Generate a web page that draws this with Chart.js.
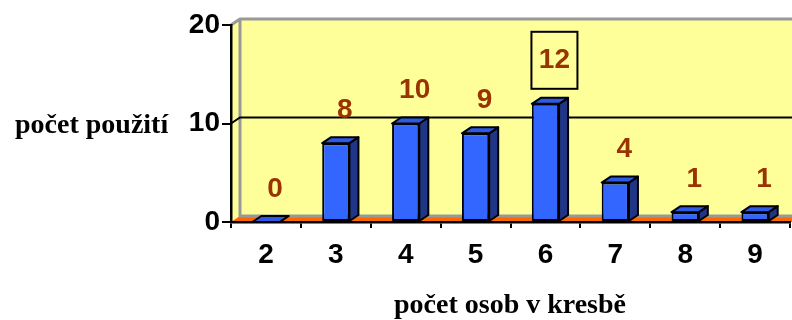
<!DOCTYPE html>
<html>
<head>
<meta charset="utf-8">
<script src="https://cdn.jsdelivr.net/npm/chart.js@4/dist/chart.umd.min.js"></script>
<style>
  html, body { margin: 0; padding: 0; background: #fff; }
  #wrap { width: 792px; height: 320px; }
</style>
</head>
<body>
<div id="wrap"><canvas id="chart" width="792" height="320"></canvas></div>
<script>
"use strict";

var categories = ["2", "3", "4", "5", "6", "7", "8", "9"];
var counts = [0, 8, 10, 9, 12, 4, 1, 1];
var yTicks = [0, 10, 20];
var highlightIndex = 4;

var xTitle = "počet osob v kresbě";
var yTitle = "počet použití";

// depth of the fake 3d
var DX = 9, DY = 6;

var wallsPlugin = {
  id: "walls",
  beforeDraw: function(chart) {
    var ctx = chart.ctx;
    var a = chart.chartArea;
    var y = chart.scales.y;
    var right = chart.width + 20;
    ctx.save();
    // back + side wall
    ctx.fillStyle = "#FFFF99";
    ctx.beginPath();
    ctx.moveTo(a.left, a.top);
    ctx.lineTo(a.left + DX, a.top - DY);
    ctx.lineTo(right, a.top - DY);
    ctx.lineTo(right, a.bottom - DY);
    ctx.lineTo(a.left, a.bottom);
    ctx.closePath();
    ctx.fill();
    // floor
    ctx.fillStyle = "#FF6600";
    ctx.beginPath();
    ctx.moveTo(a.left, a.bottom);
    ctx.lineTo(a.left + DX, a.bottom - DY);
    ctx.lineTo(right, a.bottom - DY);
    ctx.lineTo(right, a.bottom);
    ctx.closePath();
    ctx.fill();
    // wall edges
    ctx.strokeStyle = "#999999";
    ctx.lineWidth = 3;
    ctx.beginPath();
    ctx.moveTo(a.left, a.top);
    ctx.lineTo(a.left + DX, a.top - DY);
    ctx.lineTo(right, a.top - DY);
    ctx.moveTo(a.left + DX, a.top - DY);
    ctx.lineTo(a.left + DX, a.bottom - DY);
    ctx.lineTo(right, a.bottom - DY);
    ctx.stroke();
    // gridlines on the wall
    ctx.strokeStyle = "#000";
    ctx.lineWidth = 2;
    yTicks.forEach(function(v) {
      if (v === 0 || v === yTicks[yTicks.length - 1]) return;
      var py = y.getPixelForValue(v);
      ctx.beginPath();
      ctx.moveTo(a.left, py);
      ctx.lineTo(a.left + DX, py - DY);
      ctx.lineTo(right, py - DY);
      ctx.stroke();
    });
    ctx.restore();
  },
  afterDatasetsDraw: function(chart) {
    var ctx = chart.ctx;
    var meta = chart.getDatasetMeta(0);
    ctx.save();
    ctx.strokeStyle = "#000";
    ctx.lineWidth = 2;
    ctx.lineJoin = "round";
    meta.data.forEach(function(bar) {
      var p = bar.getProps(["x", "y", "base", "width"], true);
      var l = p.x - p.width / 2, r = p.x + p.width / 2;
      // side
      ctx.fillStyle = "#1F3585";
      ctx.beginPath();
      ctx.moveTo(r, p.y);
      ctx.lineTo(r + DX, p.y - DY);
      ctx.lineTo(r + DX, p.base - DY);
      ctx.lineTo(r, p.base);
      ctx.closePath();
      ctx.fill();
      ctx.stroke();
      // top
      ctx.fillStyle = "#2E5BE6";
      ctx.beginPath();
      ctx.moveTo(l, p.y);
      ctx.lineTo(l + DX, p.y - DY);
      ctx.lineTo(r + DX, p.y - DY);
      ctx.lineTo(r, p.y);
      ctx.closePath();
      ctx.fill();
      ctx.stroke();
    });
    ctx.restore();
  },
  afterDraw: function(chart) {
    var ctx = chart.ctx;
    var meta = chart.getDatasetMeta(0);
    ctx.save();
    // value labels
    ctx.font = "bold 28px 'Liberation Sans', Arial, sans-serif";
    ctx.textAlign = "center";
    ctx.textBaseline = "middle";
    ctx.fillStyle = "#993300";
    meta.data.forEach(function(bar, i) {
      var lx = bar.x + DX;
      var ly = bar.y - 33;
      if (i === highlightIndex) {
        ly = bar.y - 44;
        ctx.strokeStyle = "#000";
        ctx.lineWidth = 2;
        ctx.strokeRect(lx - 23, ly - 28, 46, 57);
      }
      ctx.fillText(String(counts[i]), lx, ly);
    });
    // axis titles
    ctx.fillStyle = "#000";
    ctx.font = "bold 28px 'Liberation Serif', 'Times New Roman', serif";
    ctx.textBaseline = "alphabetic";
    ctx.textAlign = "left";
    ctx.fillText(yTitle, 15, 133);
    ctx.textAlign = "center";
    ctx.fillText(xTitle, 510, 313);
    ctx.restore();
  }
};

new Chart(document.getElementById("chart"), {
  type: "bar",
  plugins: [wallsPlugin],
  data: {
    labels: categories,
    datasets: [{
      data: counts,
      backgroundColor: "#3366FF",
      borderColor: "#000",
      borderWidth: 2,
      borderSkipped: false,
      barPercentage: 0.39,
      categoryPercentage: 1.0
    }]
  },
  options: {
    responsive: false,
    animation: false,
    layout: { padding: { top: 25, right: 2, left: 0, bottom: 0 } },
    plugins: {
      legend: { display: false },
      tooltip: { enabled: false }
    },
    scales: {
      x: {
        afterFit: function(scale) { scale.height = 98; },
        grid: {
          offset: true,
          drawOnChartArea: false,
          tickLength: 6,
          color: "#000",
          lineWidth: 2
        },
        border: { display: true, color: "#000", width: 2.5 },
        ticks: {
          color: "#000",
          padding: 10,
          font: { family: "'Liberation Sans', Arial, sans-serif", size: 28, weight: "bold" }
        }
      },
      y: {
        min: 0,
        max: 20,
        afterFit: function(scale) { scale.width = 231; },
        afterBuildTicks: function(scale) {
          scale.ticks = yTicks.map(function(v) { return { value: v }; });
        },
        grid: {
          drawOnChartArea: false,
          tickLength: 9,
          color: "#000",
          lineWidth: 2
        },
        border: { display: true, color: "#000", width: 2.5 },
        ticks: {
          color: "#000",
          padding: 2,
          font: { family: "'Liberation Sans', Arial, sans-serif", size: 28, weight: "bold" }
        }
      }
    }
  }
});
</script>
</body>
</html>
